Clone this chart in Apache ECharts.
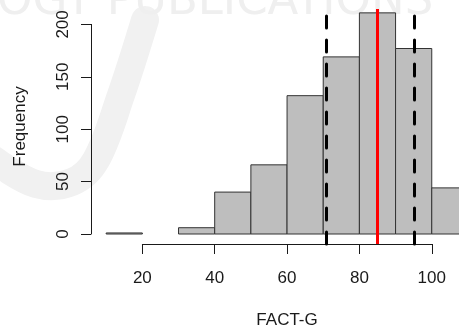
<!DOCTYPE html>
<html>
<head>
<meta charset="utf-8">
<script src="https://cdn.jsdelivr.net/npm/echarts@6/dist/echarts.min.js"></script>
<style>
  html, body { margin: 0; padding: 0; background: #fff; }
  #main { width: 459px; height: 331px; }
</style>
</head>
<body>
<div id="main"></div>
<script>
// histogram bins (left edges, width 10) and counts
var binStarts = [10, 20, 30, 40, 50, 60, 70, 80, 90, 100];
var binWidth = 10;
var counts = [1, 0, 6, 40, 66, 132, 169, 211, 177, 44];
var xTicks = [20, 40, 60, 80, 100];
var yTicks = [0, 50, 100, 150, 200];
var dashedAt = [70.9, 95.1];
var redAt = [84.8];

// pixel scale of the plot (x: 0 -> 70px, 3.6175px per unit; y: 0 -> 234px, 1.048px per unit)
var X0 = 70, XU = 3.6175, Y0 = 234, YU = 1.048;
var W = 459, H = 331;
var gLeft = 91, gTop = 9, gBottom = 244;

var font = 'Liberation Sans, Arial, sans-serif';
var ink = '#1a1a1a';

var bins = binStarts.map(function (s, i) {
    return [s, s + binWidth, counts[i]];
}).filter(function (b) { return b[2] > 0; });

var dom = document.getElementById('main');
var chart = echarts.init(dom, null, { renderer: 'canvas' });

var option = {
    animation: false,
    backgroundColor: '#fff',
    graphic: [
        // faint publisher watermark behind the plot
        {
            type: 'polyline', z: -10, silent: true,
            shape: { points: [[145, 20], [121, 95], [96, 160], [72, 182], [36, 184], [-6, 160]], smooth: 0.35 },
            style: { stroke: '#f1f1f1', lineWidth: 28, fill: null, lineCap: 'round' }
        },
        {
            type: 'text', z: -10, silent: true, left: -3, top: -20,
            style: { text: 'OGY PUBLICATIONS', font: '45px DejaVu Sans', fill: '#efefef' }
        }
    ],
    grid: [
        // data area
        { left: gLeft, right: 0, top: gTop, bottom: H - gBottom },
        // x axis (drawn only from 20 to 100, like R)
        { left: X0 + xTicks[0] * XU, width: (xTicks[4] - xTicks[0]) * XU, bottom: H - gBottom, height: 1 },
        // y axis (drawn only from 0 to 200)
        { left: gLeft, width: 1, top: Y0 - yTicks[4] * YU, height: (yTicks[4] - yTicks[0]) * YU }
    ],
    xAxis: [
        { gridIndex: 0, type: 'value', min: (gLeft - X0) / XU, max: (W - X0) / XU, show: false },
        {
            gridIndex: 1, type: 'value', min: xTicks[0], max: xTicks[4], interval: 20, position: 'bottom',
            axisLine: { show: true, lineStyle: { color: ink, width: 1 } },
            axisTick: { show: true, length: 10, lineStyle: { color: ink, width: 1 } },
            axisLabel: { margin: 26, fontSize: 17, fontFamily: font, color: ink },
            splitLine: { show: false },
            name: 'FACT-G', nameLocation: 'middle', nameGap: 68,
            nameTextStyle: { fontSize: 17, fontFamily: font, color: ink }
        },
        { gridIndex: 2, type: 'value', show: false }
    ],
    yAxis: [
        {
            gridIndex: 0, type: 'value', min: (Y0 - gBottom) / YU, max: (Y0 - gTop) / YU,
            axisLine: { show: false }, axisTick: { show: false }, axisLabel: { show: false },
            splitLine: { show: false },
            name: 'Frequency', nameLocation: 'middle', nameRotate: 90, nameGap: 62,
            nameTextStyle: { fontSize: 17, fontFamily: font, color: ink }
        },
        { gridIndex: 1, type: 'value', show: false },
        {
            gridIndex: 2, type: 'value', min: yTicks[0], max: yTicks[4], interval: 50, position: 'left',
            axisLine: { show: true, lineStyle: { color: ink, width: 1 } },
            axisTick: { show: true, length: 10, lineStyle: { color: ink, width: 1 } },
            axisLabel: { rotate: 90, margin: 19, fontSize: 17, fontFamily: font, color: ink },
            splitLine: { show: false }
        }
    ],
    series: [
        {
            type: 'custom',
            xAxisIndex: 0, yAxisIndex: 0,
            clip: true,
            data: bins,
            renderItem: function (params, api) {
                var p0 = api.coord([api.value(0), api.value(2)]);
                var p1 = api.coord([api.value(1), 0]);
                return {
                    type: 'rect',
                    shape: { x: p0[0], y: p0[1], width: p1[0] - p0[0], height: p1[1] - p0[1] },
                    style: { fill: '#bebebe', stroke: '#333333', lineWidth: 1 }
                };
            },
            markLine: {
                silent: true,
                symbol: 'none',
                label: { show: false },
                data: dashedAt.map(function (v) {
                    return { xAxis: v, lineStyle: { color: '#000', width: 3, type: [12, 12], cap: 'round' } };
                }).concat(redAt.map(function (v) {
                    return { xAxis: v, lineStyle: { color: '#ff0000', width: 3, type: 'solid' } };
                }))
            }
        }
    ]
};

chart.setOption(option);
</script>
</body>
</html>
